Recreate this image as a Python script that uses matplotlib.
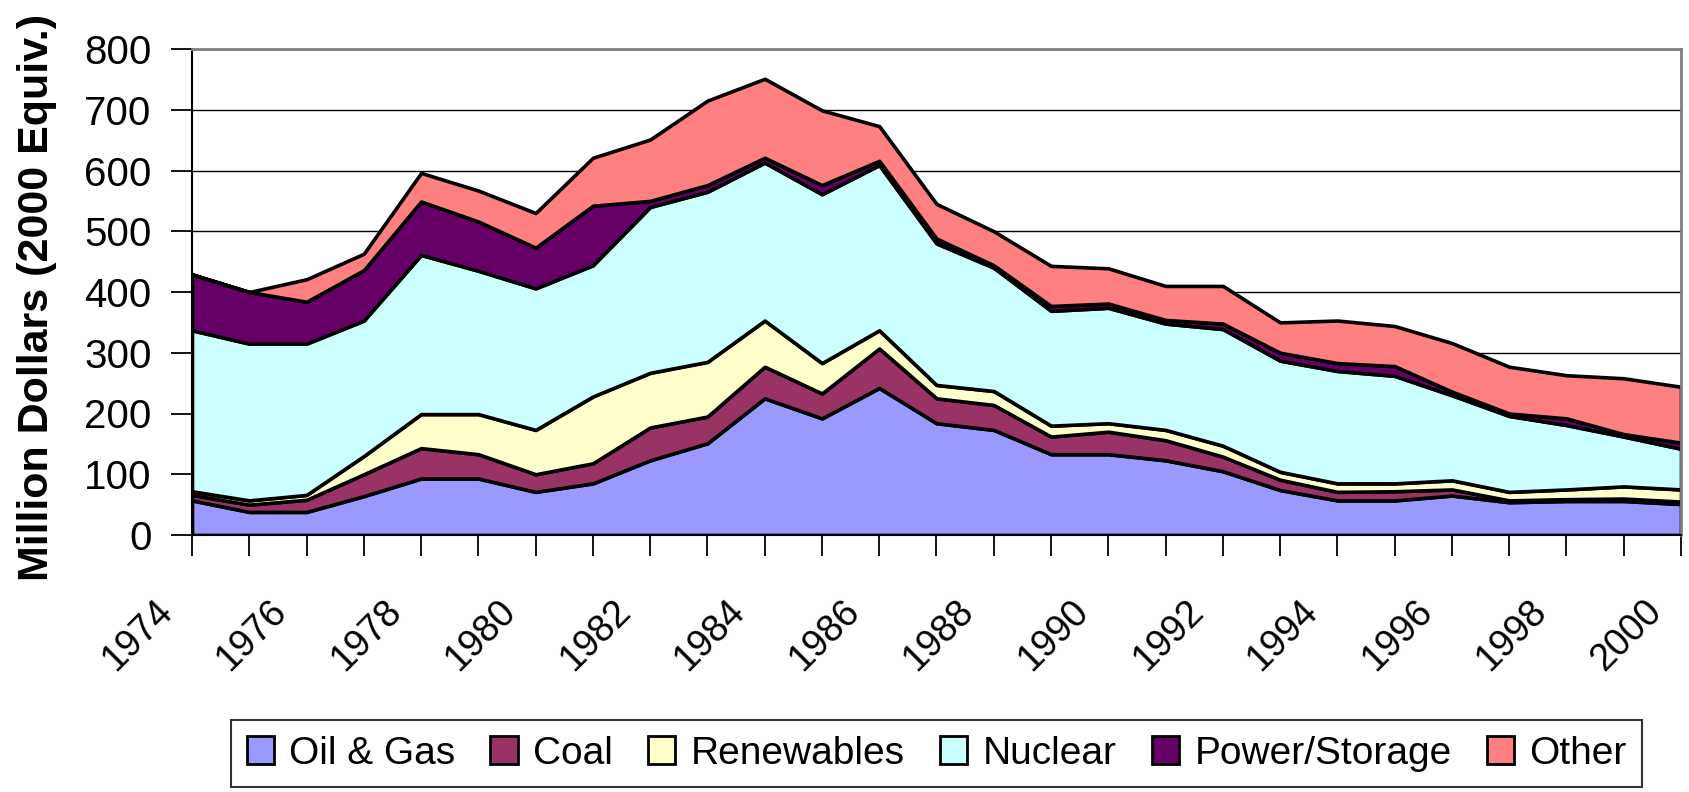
import matplotlib
matplotlib.use('Agg')
import matplotlib.pyplot as plt
from matplotlib.patches import Patch
from matplotlib.transforms import ScaledTranslation

plt.rcParams['font.family'] = ['Liberation Sans', 'DejaVu Sans']

# values, million dollars (2000 equiv.)
years = list(range(1974, 2001))
oil_gas = [57, 38, 38, 64, 93, 93, 71, 85, 123, 151, 225, 192, 242, 184, 173, 133, 133, 123, 105, 74, 57, 57, 65, 54, 56, 56, 51]
coal = [9, 12, 20, 36, 50, 40, 29, 33, 54, 44, 52, 41, 65, 41, 41, 29, 37, 33, 24, 17, 14, 15, 10, 3, 3, 4, 4]
renewables = [6, 7, 8, 30, 56, 66, 73, 110, 90, 90, 76, 50, 30, 22, 23, 18, 14, 17, 18, 13, 14, 13, 15, 14, 16, 20, 20]
nuclear = [265, 258, 249, 223, 262, 236, 233, 216, 273, 280, 260, 278, 272, 233, 203, 189, 190, 175, 192, 183, 185, 177, 140, 125, 106, 82, 67]
power_storage = [92, 85, 69, 83, 88, 81, 67, 98, 10, 11, 8, 15, 7, 8, 4, 8, 7, 6, 9, 13, 13, 16, 6, 4, 11, 4, 10]
other = [0, 0, 37, 27, 47, 51, 57, 79, 101, 139, 130, 123, 57, 57, 56, 66, 58, 56, 62, 50, 70, 66, 80, 77, 71, 92, 92]

names = ['Oil & Gas', 'Coal', 'Renewables', 'Nuclear', 'Power/Storage', 'Other']
colors = ['#9999FF', '#993366', '#FFFFCC', '#CCFFFF', '#660066', '#FF8080']
yticks = [0, 100, 200, 300, 400, 500, 600, 700, 800]

fig = plt.figure(figsize=(16.89, 7.92), dpi=100)
ax = fig.add_axes([192 / 1689, 1 - 535 / 792, 1489 / 1689, 486 / 792])

ax.stackplot(years, oil_gas, coal, renewables, nuclear, power_storage, other,
             colors=colors, edgecolor='black', linewidth=2.6, zorder=2)

ax.set_xlim(years[0], years[-1])
ax.set_ylim(0, 800)
ax.set_yticks(yticks)
ax.set_yticklabels([str(v) for v in yticks], fontsize=29)
ax.yaxis.grid(True, color='black', linewidth=1.0, zorder=0)
ax.set_axisbelow(True)

# every year gets a tick, every second one a label (drawn by hand, shifted like the original)
ax.set_xticks(years)
ax.set_xticklabels([])
shift = ScaledTranslation(-0.38, -0.58, fig.dpi_scale_trans)
for y in years[::2]:
    ax.text(y, 0, str(y), transform=ax.get_xaxis_transform() + shift,
            fontsize=27, rotation=45, ha='right', va='top', rotation_mode='anchor')

ax.tick_params(axis='both', direction='out', length=15, width=1.3, color='black')
ax.tick_params(axis='y', pad=14)

for side in ['left', 'bottom']:
    ax.spines[side].set_color('black')
    ax.spines[side].set_linewidth(1.5)
for side in ['top', 'right']:
    ax.spines[side].set_color('#808080')
    ax.spines[side].set_linewidth(2)

ax.set_ylabel('Million Dollars (2000 Equiv.)', fontsize=31, fontweight='bold')
ax.yaxis.set_label_coords(-0.0907, 0.488)

handles = [Patch(facecolor=c, edgecolor='black', linewidth=2) for c in colors]
leg = fig.legend(handles, names, loc='upper left', bbox_to_anchor=(231 / 1689, 1 - 720 / 792),
                 ncol=6, fontsize=28, frameon=True, fancybox=False, borderpad=0.4,
                 handlelength=0.7, handleheight=0.7, handletextpad=0.4, columnspacing=0.9,
                 borderaxespad=0)
leg.get_frame().set_edgecolor('black')
leg.get_frame().set_linewidth(1.5)

fig.savefig('out.png', dpi=100)
